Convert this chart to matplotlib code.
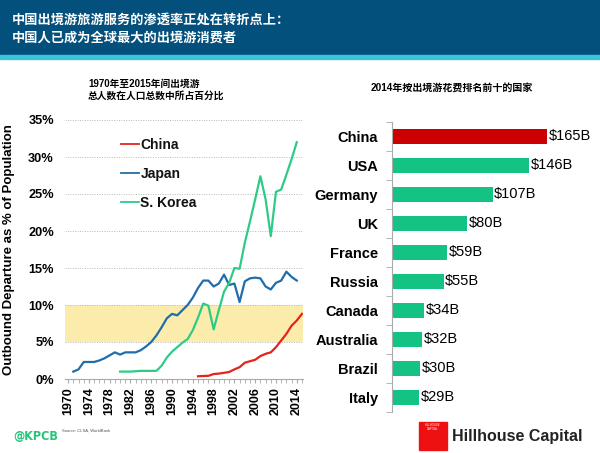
import matplotlib
matplotlib.use("Agg")
import matplotlib.pyplot as plt
from matplotlib.patches import Rectangle
import numpy as np

plt.rcParams['font.family'] = ['Liberation Sans', 'Noto Sans CJK SC']

# ---------------- data ----------------
japan_years = list(range(1971, 2015))
japan = [1.0, 1.3, 2.3, 2.3, 2.3, 2.5, 2.8, 3.2, 3.6, 3.3, 3.6, 3.6, 3.6, 3.9,
         4.4, 5.0, 5.9, 7.0, 8.2, 8.8, 8.6, 9.3, 10.0, 11.0, 12.3, 13.3, 13.3,
         12.5, 12.9, 14.1, 12.7, 12.9, 10.4, 13.2, 13.6, 13.7, 13.6, 12.5, 12.1,
         13.0, 13.3, 14.5, 13.8, 13.3]
korea_years = list(range(1980, 2015))
korea = [1.0, 1.0, 1.0, 1.05, 1.1, 1.1, 1.1, 1.1, 1.8, 2.9, 3.7, 4.3, 4.9, 5.4,
         6.6, 8.3, 10.2, 9.9, 6.7, 9.3, 11.8, 13.0, 15.0, 14.9, 18.4, 21.3,
         24.3, 27.4, 24.3, 19.3, 25.3, 25.6, 27.6, 29.7, 32.0]
china_years = list(range(1995, 2016))
china = [0.37, 0.41, 0.43, 0.67, 0.73, 0.83, 0.95, 1.3, 1.6, 2.2, 2.4, 2.6, 3.1,
         3.4, 3.6, 4.3, 5.2, 6.1, 7.2, 7.9, 8.8]
y_ticks = [0, 5, 10, 15, 20, 25, 30, 35]
x_ticks = list(range(1970, 2015, 4))

countries = ["China", "USA", "Germany", "UK", "France", "Russia", "Canada",
             "Australia", "Brazil", "Italy"]
spend = [165, 146, 107, 80, 59, 55, 34, 32, 30, 29]

# ---------------- style ----------------
W, H = 600, 453
C_RED = "#e5231b"
C_BLUE = "#1f6eab"
C_GREEN = "#2dcc86"
BAR_GREEN = "#14c283"
BAR_RED = "#cc0000"
HEADER = "#03507c"

def fx(px):
    return px / W

def fy(py):
    return 1 - py / H

fig = plt.figure(figsize=(6, 4.53), dpi=100)
fig.patch.set_facecolor("white")

# header band
fig.add_artist(Rectangle((0, fy(55)), 1, 55 / H, transform=fig.transFigure,
                         color=HEADER, zorder=0))
fig.add_artist(Rectangle((0, fy(59)), 1, 4 / H, transform=fig.transFigure,
                         color="#3cc3dc", zorder=0))
fig.text(fx(12), fy(20), "中国出境游旅游服务的渗透率正处在转折点上：", color="white",
         fontsize=9.5, fontweight="bold", va="center", ha="left")
fig.text(fx(12), fy(38), "中国人已成为全球最大的出境游消费者", color="white",
         fontsize=9.5, fontweight="bold", va="center", ha="left")

# ---------------- left line chart ----------------
ax = fig.add_axes([fx(65), fy(379), (303 - 65) / W, (379 - 120) / H])
ax.axhspan(5, 10, color="#fcecab", zorder=0, lw=0)
for t in y_ticks[1:]:
    ax.axhline(t, color="#b8b8b8", lw=0.7, ls=(0, (1, 1.5)), zorder=1)
ax.plot(japan_years, japan, color=C_BLUE, lw=1.6, zorder=3, label="Japan")
ax.plot(korea_years, korea, color=C_GREEN, lw=1.6, zorder=3, label="S. Korea")
ax.plot(china_years, china, color=C_RED, lw=1.6, zorder=4, label="China")
ax.set_xlim(1969.4, 2015.2)
ax.set_ylim(0, 35)
ax.set_yticks(y_ticks)
ax.set_yticklabels([f"{t}%" for t in y_ticks], fontsize=9.2, fontweight="bold")
ax.set_xticks(x_ticks)
ax.set_xticklabels([str(t) for t in x_ticks], rotation=90, fontsize=9,
                   fontweight="bold")
ax.set_xticks(list(range(1970, 2016)), minor=True)
ax.tick_params(axis="y", length=0, pad=8)
ax.tick_params(axis="x", which="both", length=3, color="#aaaaaa", pad=3,
               direction="out")
for s in ["top", "right", "left"]:
    ax.spines[s].set_visible(False)
ax.spines["bottom"].set_color("#aaaaaa")
ax.spines["bottom"].set_linewidth(0.8)
ax.set_ylabel("Outbound Departure as % of Population", fontsize=9.5,
              fontweight="bold")
ax.yaxis.set_label_coords((15 - 65) / (303 - 65), 0.5)

h, l = ax.get_legend_handles_labels()
order = [2, 0, 1]
leg = ax.legend([h[i] for i in order], [l[i] for i in order], loc="upper left",
                bbox_to_anchor=((121 - 65) / 238, (379 - 138) / 259),
                frameon=False, fontsize=10, handlelength=1.3, handletextpad=0.1,
                labelspacing=1.08, borderaxespad=0, borderpad=0)
for t in leg.get_texts():
    t.set_fontweight("bold")
    t.set_color("#111111")
for ln in leg.get_lines():
    ln.set_linewidth(1.3)

fig.text(fx(88), fy(84), "1970年至2015年间出境游", fontsize=7, fontweight="bold",
         va="center", ha="left")
fig.text(fx(88), fy(96), "总人数在人口总数中所占百分比", fontsize=7,
         fontweight="bold", va="center", ha="left")

fig.text(fx(13), fy(436), "@KPCB", color="#25c47c", fontsize=9,
         family="DejaVu Sans", fontstretch="condensed",
         fontweight="bold", va="center", ha="left")
fig.text(fx(62), fy(431), "Source: CLSA, WorldBank", color="#555555",
         fontsize=3, va="center", ha="left")

# ---------------- right bar chart ----------------
ax2 = fig.add_axes([fx(392), fy(411.8), (580 - 392) / W, (411.8 - 122) / H])
ypos = np.arange(len(countries))
colors = [BAR_RED] + [BAR_GREEN] * (len(countries) - 1)
ax2.barh(ypos, spend, height=0.5, color=colors, zorder=2)
for yv, v in zip(ypos, spend):
    ax2.text(v + 1.5, yv, f"${v}B", va="center", ha="left", fontsize=10.5)
ax2.set_ylim(len(countries) - 0.5, -0.5)
ax2.set_xlim(0, 200)
ax2.set_yticks(ypos)
ax2.set_yticklabels(countries, fontsize=10.5, fontweight="bold")
ax2.set_yticks(np.arange(-0.5, len(countries)), minor=True)
ax2.tick_params(axis="y", which="major", length=0, pad=10)
ax2.tick_params(axis="y", which="minor", length=4, color="#aaaaaa")
ax2.set_xticks([])
for s in ["top", "right", "bottom"]:
    ax2.spines[s].set_visible(False)
ax2.spines["left"].set_color("#aaaaaa")
ax2.spines["left"].set_linewidth(0.8)

fig.text(fx(452), fy(89), "2014年按出境游花费排名前十的国家", fontsize=7.2,
         fontweight="bold", va="center", ha="center")

# Hillhouse logo
fig.add_artist(Rectangle((fx(419), fy(450)), 28 / W, 28 / H,
                         transform=fig.transFigure, color="#ee1111", zorder=5))
fig.text(fx(433), fy(427), "HILLHOUSE\nCAPITAL", color="white", fontsize=2,
         ha="center", va="center", zorder=6)
fig.text(fx(452), fy(436), "Hillhouse Capital", color="#222222", fontsize=11.5,
         fontweight="bold", va="center", ha="left")

fig.savefig("out.png", dpi=100)
